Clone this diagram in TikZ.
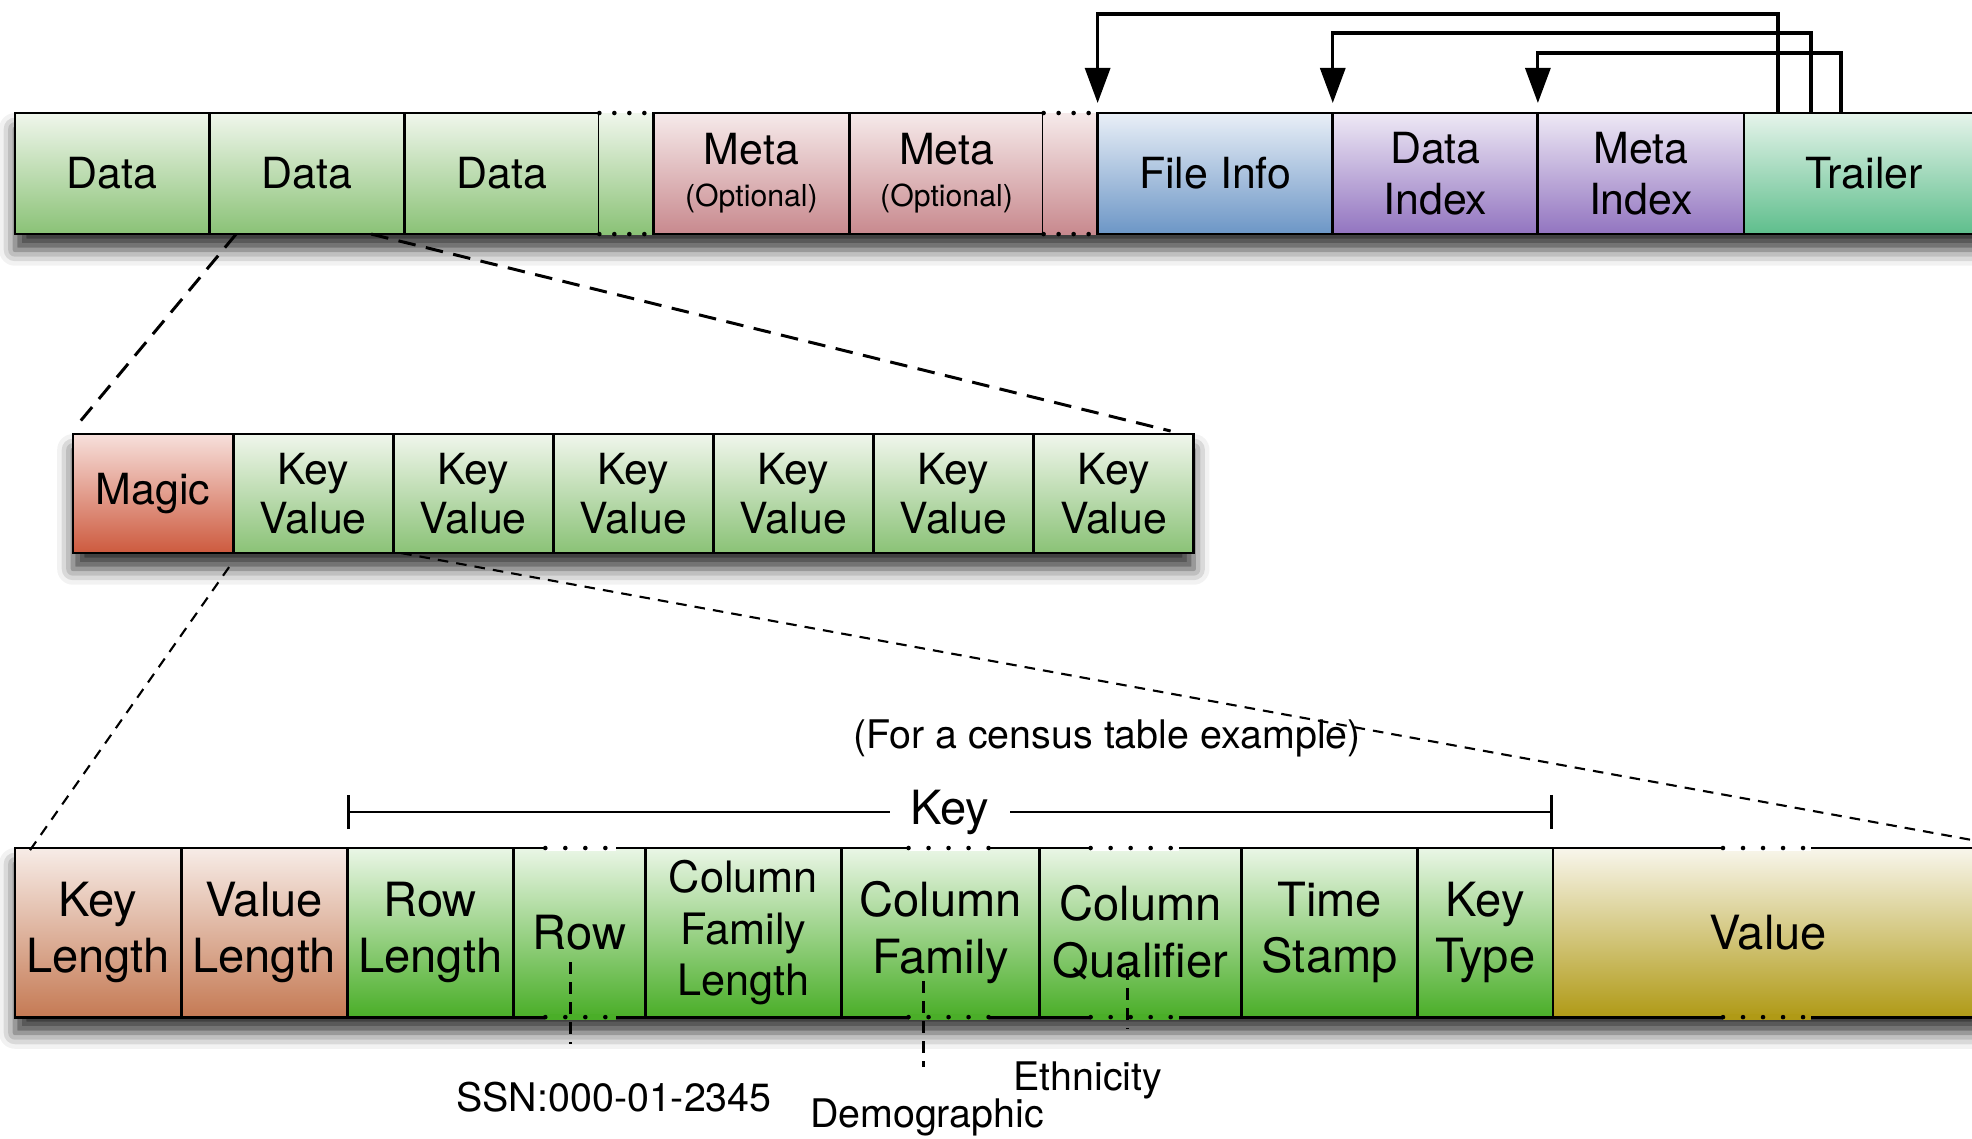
\documentclass[tikz,border=0pt]{standalone}
\usepackage{fontspec}
\setmainfont{TeX Gyre Heros}
\usepackage{tikz}
\usetikzlibrary{arrows.meta,positioning,shadows.blur}
\pgfdeclarelayer{bg}
\pgfsetlayers{bg,main}

\begin{document}
\begin{tikzpicture}[x=0.01cm,y=-0.01cm]
    \definecolor{datatop}{RGB}{240,246,236}
    \definecolor{databot}{RGB}{138,194,118}
    \definecolor{metatop}{RGB}{246,234,234}
    \definecolor{metabot}{RGB}{200,137,142}
    \definecolor{infotop}{RGB}{233,239,247}
    \definecolor{infobot}{RGB}{108,150,198}
    \definecolor{idxtop}{RGB}{238,233,245}
    \definecolor{idxbot}{RGB}{146,116,192}
    \definecolor{trailtop}{RGB}{230,244,235}
    \definecolor{trailbot}{RGB}{94,190,140}
    \definecolor{magictop}{RGB}{247,224,220}
    \definecolor{magicbot}{RGB}{205,90,62}
    \definecolor{lentop}{RGB}{247,236,231}
    \definecolor{lenbot}{RGB}{197,122,84}
    \definecolor{keytop}{RGB}{234,246,230}
    \definecolor{keybot}{RGB}{74,174,40}
    \definecolor{valtop}{RGB}{248,246,236}
    \definecolor{valbot}{RGB}{176,154,22}

    % boxes
    \tikzstyle{cell}=[rectangle,draw,line width=0.8pt,outer sep=0pt,inner sep=0pt,align=center]
    \tikzstyle{gapcell}=[rectangle,outer sep=0pt,inner sep=0pt]
    \tikzstyle{filerow}=[minimum height=1.21cm,font=\fontsize{12.2}{14.5}\selectfont]
    \tikzstyle{blockrow}=[minimum height=1.19cm,font=\fontsize{12.2}{14}\selectfont]
    \tikzstyle{kvrow}=[minimum height=1.69cm,font=\fontsize{13.4}{16}\selectfont]
    % fills
    \tikzstyle{datafill}=[top color=datatop,bottom color=databot]
    \tikzstyle{metafill}=[top color=metatop,bottom color=metabot]
    \tikzstyle{infofill}=[top color=infotop,bottom color=infobot]
    \tikzstyle{idxfill}=[top color=idxtop,bottom color=idxbot]
    \tikzstyle{trailfill}=[top color=trailtop,bottom color=trailbot]
    \tikzstyle{magicfill}=[top color=magictop,bottom color=magicbot]
    \tikzstyle{lenfill}=[top color=lentop,bottom color=lenbot]
    \tikzstyle{keyfill}=[top color=keytop,bottom color=keybot]
    \tikzstyle{valfill}=[top color=valtop,bottom color=valbot]
    % lines
    \tikzstyle{dashlink}=[line width=0.85pt,dash pattern=on 5pt off 3pt]
    \tikzstyle{thinlink}=[line width=0.6pt,dash pattern=on 3pt off 2.3pt]
    \tikzstyle{annot}=[line width=0.8pt,dash pattern=on 3.4pt off 2.3pt]
    \tikzstyle{ptr}=[line width=0.9pt,-{Triangle[length=0.35cm,width=0.25cm]}]
    \tikzstyle{topdots}=[draw,line width=1.3pt,line cap=round,dash pattern=on 0pt off 0.15cm]
    \tikzstyle{gapdots}=[preaction={draw=white,solid,line width=1.6pt,line cap=butt},draw,line width=1.3pt,line cap=round,dash pattern=on 0pt off 0.2cm]
    \tikzstyle{lowdots}=[preaction={draw=keybot,solid,line width=1.6pt,line cap=butt},draw,line width=1.3pt,line cap=round,dash pattern=on 0pt off 0.2cm]
    \tikzstyle{valdots}=[preaction={draw=valbot,solid,line width=1.6pt,line cap=butt},draw,line width=1.3pt,line cap=round,dash pattern=on 0pt off 0.2cm]
    \tikzstyle{rowshadow}=[blur shadow={shadow xshift=0pt,shadow yshift=-4.5pt,shadow blur radius=4.5pt,shadow opacity=80}]
    \tikzstyle{notetext}=[font=\fontsize{11.2}{13}\selectfont]

    \useasboundingbox (0,0) rectangle (1972,1138);
    \clip (0,0) rectangle (1972,1138);

    % file layout
    \node[cell,filerow,datafill,minimum width=1.94cm,anchor=north west] (d1) at (15,113) {Data};
    \node[cell,filerow,datafill,minimum width=1.95cm,right=0pt of d1] (d2) {Data};
    \node[cell,filerow,datafill,minimum width=1.95cm,right=0pt of d2] (d3) {Data};
    \node[gapcell,filerow,datafill,minimum width=0.54cm,right=0pt of d3] (gap1) {};
    \node[cell,filerow,metafill,minimum width=1.96cm,right=0pt of gap1] (m1) {Meta\\[-2.5pt]{\fontsize{8.6}{10}\selectfont (Optional)}};
    \node[cell,filerow,metafill,minimum width=1.94cm,right=0pt of m1] (m2) {Meta\\[-2.5pt]{\fontsize{8.6}{10}\selectfont (Optional)}};
    \node[gapcell,filerow,metafill,minimum width=0.54cm,right=0pt of m2] (gap2) {};
    \node[cell,filerow,infofill,minimum width=2.35cm,right=0pt of gap2] (finfo) {File Info};
    \node[cell,filerow,idxfill,minimum width=2.05cm,right=0pt of finfo] (didx) {Data\\Index};
    \node[cell,filerow,idxfill,minimum width=2.06cm,right=0pt of didx] (midx) {Meta\\Index};
    \node[cell,filerow,trailfill,minimum width=2.40cm,right=0pt of midx] (trailer) {Trailer};
    \draw[topdots] (gap1.north west) -- (gap1.north east);
    \draw[topdots] (gap1.south west) -- (gap1.south east);
    \draw[topdots] (gap2.north west) -- (gap2.north east);
    \draw[topdots] (gap2.south west) -- (gap2.south east);

    % trailer pointers
    \draw[ptr] ([xshift=0.34cm]trailer.north west) -- ++(0,-99) -| ([yshift=0.1cm]finfo.north west);
    \draw[ptr] ([xshift=0.67cm]trailer.north west) -- ++(0,-80) -| ([yshift=0.1cm]didx.north west);
    \draw[ptr] ([xshift=0.97cm]trailer.north west) -- ++(0,-60) -| ([yshift=0.1cm]midx.north west);

    % data block
    \node[cell,blockrow,magicfill,minimum width=1.60cm,anchor=north west] (magic) at (73,434) {Magic};
    \node[cell,blockrow,datafill,minimum width=1.60cm,right=0pt of magic] (kv1) {Key\\Value};
    \node[cell,blockrow,datafill,minimum width=1.60cm,right=0pt of kv1] (kv2) {Key\\Value};
    \node[cell,blockrow,datafill,minimum width=1.60cm,right=0pt of kv2] (kv3) {Key\\Value};
    \node[cell,blockrow,datafill,minimum width=1.60cm,right=0pt of kv3] (kv4) {Key\\Value};
    \node[cell,blockrow,datafill,minimum width=1.60cm,right=0pt of kv4] (kv5) {Key\\Value};
    \node[cell,blockrow,datafill,minimum width=1.60cm,right=0pt of kv5] (kv6) {Key\\Value};
    \draw[dashlink] ([xshift=0.27cm]d2.south west) -- ([xshift=0.05cm,yshift=0.10cm]magic.north west);
    \draw[dashlink] ([xshift=-0.33cm]d2.south east) -- ([xshift=-0.23cm,yshift=0.03cm]kv6.north east);

    % key value
    \node[cell,kvrow,lenfill,minimum width=1.66cm,anchor=north west] (klen) at (15,848) {Key\\Length};
    \node[cell,kvrow,lenfill,minimum width=1.66cm,right=0pt of klen] (vlen) {Value\\Length};
    \node[cell,kvrow,keyfill,minimum width=1.66cm,right=0pt of vlen] (rlen) {Row\\Length};
    \node[cell,kvrow,keyfill,minimum width=1.32cm,right=0pt of rlen] (row) {Row};
    \node[cell,kvrow,keyfill,minimum width=1.96cm,right=0pt of row,font=\fontsize{12.3}{14.7}\selectfont] (cfl) {Column\\Family\\Length};
    \node[cell,kvrow,keyfill,minimum width=1.98cm,right=0pt of cfl] (cf) {Column\\Family};
    \node[cell,kvrow,keyfill,minimum width=2.02cm,right=0pt of cf] (cq) {Column\\Qualifier};
    \node[cell,kvrow,keyfill,minimum width=1.76cm,right=0pt of cq] (ts) {Time\\Stamp};
    \node[cell,kvrow,keyfill,minimum width=1.35cm,right=0pt of ts] (ktype) {Key\\Type};
    \node[cell,kvrow,valfill,minimum width=4.30cm,right=0pt of ktype] (value) {Value};
    \coordinate (rim) at (1972,840);
    \draw[thinlink] ([xshift=-0.04cm,yshift=-0.14cm]magic.south east) -- ([xshift=0.13cm,yshift=-0.05cm]klen.north west);
    \draw[thinlink] ([xshift=0.08cm]kv1.south east) -- (rim);

    \draw[gapdots] ([xshift=0.32cm]row.north west) -- ([xshift=1.03cm]row.north west);
    \draw[lowdots] ([xshift=0.32cm]row.south west) -- ([xshift=1.03cm]row.south west);
    \draw[gapdots] ([xshift=0.51cm]cq.north west) -- ([xshift=1.39cm]cq.north west);
    \draw[lowdots] ([xshift=0.51cm]cq.south west) -- ([xshift=1.39cm]cq.south west);
    \draw[gapdots] ([xshift=1.70cm]value.north west) -- ([xshift=2.58cm]value.north west);
    \draw[valdots] ([xshift=1.70cm]value.south west) -- ([xshift=2.58cm]value.south west);
    \draw[lowdots] ([xshift=0.67cm]cf.south west) -- ([xshift=1.47cm]cf.south west);

    % key bracket
    \coordinate[above=0.36cm of rlen.north west] (kl);
    \coordinate[above=0.36cm of ktype.north east] (kr);
    \draw[line width=0.8pt,{Bar[width=0.34cm]}-{Bar[width=0.34cm]}] (kl) -- node[fill=white,inner xsep=0.21cm,font=\fontsize{13.4}{16}\selectfont] (keytxt) {Key} (kr);
    \draw[gapdots] ([xshift=0.67cm]cf.north west) -- ([xshift=1.47cm]cf.north west);

    \node[notetext] (census) at (1107,738) {(For a census table example)};

    % example values
    \node[notetext] (ssn) at (614,1097) {SSN:000-01-2345};
    \node[notetext] (demo) at (927,1117) {Demographic};
    \node[notetext] (eth) at (1088,1080) {Ethnicity};
    \draw[annot] ([xshift=-0.09cm,yshift=-0.295cm]row.center) -- ([xshift=-0.09cm,yshift=-1.115cm]row.center);
    \draw[annot] ([xshift=-0.17cm,yshift=-0.485cm]cf.center) -- ([xshift=-0.17cm,yshift=-1.345cm]cf.center);
    \draw[annot] ([xshift=-0.13cm,yshift=-0.355cm]cq.center) -- ([xshift=-0.13cm,yshift=-0.965cm]cq.center);

    % shadows
    \begin{pgfonlayer}{bg}
        \path[rowshadow] (d1.south west) rectangle (trailer.north east);
        \path[rowshadow] (magic.south west) rectangle (kv6.north east);
        \path[rowshadow] (klen.south west) rectangle (value.north east);
    \end{pgfonlayer}
\end{tikzpicture}
\end{document}
